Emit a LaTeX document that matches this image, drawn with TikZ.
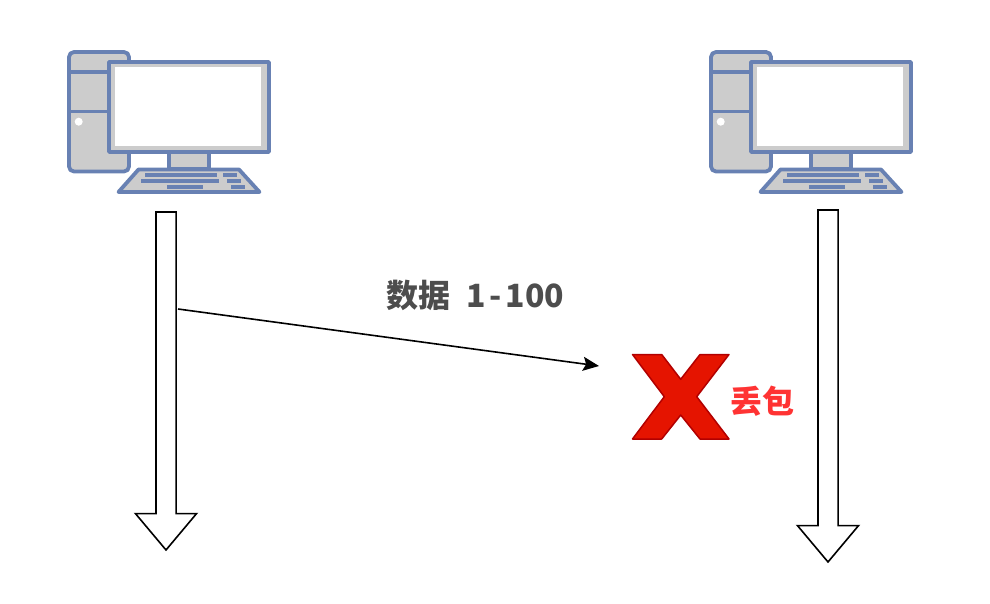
\documentclass[tikz,border=0pt]{standalone}
\usepackage{fontspec}
\setmainfont{Noto Sans CJK SC}
\usepackage{tikz}
\usetikzlibrary{arrows.meta,calc,shapes.arrows}
\definecolor{pcblue}{HTML}{6881B3}
\definecolor{pcgray}{HTML}{CCCCCC}
\definecolor{labelgray}{HTML}{4D4D4D}
\definecolor{lossred}{HTML}{FF3333}
\definecolor{crossfill}{HTML}{E51400}
\definecolor{crossline}{HTML}{B20000}
\tikzstyle{lifeline}=[draw=black,line width=1.6pt,fill=white,shape=single arrow,shape border rotate=270,
    inner sep=0pt,minimum width=60pt,single arrow head extend=20.5pt,single arrow tip angle=80,anchor=center]
\tikzstyle{packet}=[-{Stealth[length=16pt,width=14pt,inset=3pt]},black,line width=1.6pt]
\tikzstyle{pcpart}=[draw=pcblue,line width=3.8pt,fill=pcgray,line join=round]
\tikzstyle{pckey}=[fill=pcblue,draw=none]
\newcommand{\computer}[1]{
\begin{scope}[shift={(#1,0)}]
    \path[pcpart,rounded corners=5pt] (69,52) rectangle (129,171.5);
    \draw[pcblue,line width=3.8pt] (69,72) -- (129,72) (69,111.5) -- (129,111.5);
    \fill[white] (78.7,121.7) circle (4pt);
    \path[pcpart] (169,152) rectangle (209,169);
    \path[pcpart] (109,62) rectangle (269,152);
    \fill[white] (115,67.5) rectangle (261,146);
    \path[pcpart] (138.5,169.5) -- (239,169.5) -- (259.5,192) -- (118.5,192) -- cycle;
    \fill[pckey] (145,172.7) rectangle (217,177);
    \fill[pckey] (223,172.7) rectangle (237,177);
    \fill[pckey] (141,179) rectangle (219,183);
    \fill[pckey] (227,179) rectangle (241,183);
    \fill[pckey] (167,185) rectangle (203,189);
    \fill[pckey] (231,185) rectangle (245,189);
\end{scope}
}

\begin{document}
\begin{tikzpicture}[x=1pt,y=-1pt]
\useasboundingbox (0,0) rectangle (990,604);

\computer{0}
\computer{642}

\node[lifeline,minimum height=338pt,text width=18.5pt] (senderline) at (166,375) {};
\node[lifeline,minimum height=352pt,text width=18.5pt] (receiverline) at (828,380) {};

\coordinate (sendpoint) at (178,309);
\coordinate (droppoint) at (599,366);
\draw[packet] (sendpoint) -- (droppoint);

\node[text=labelgray,font=\fontsize{32pt}{32pt}\selectfont\bfseries,anchor=west,inner sep=0pt] (datalabel) at (386,295) {数据\hspace{16pt}1\hspace{4pt}-\hspace{4pt}100};

\path[fill=crossfill,draw=crossline,line width=1.5pt,line join=round]
    (632.5,354.5) -- (661.7,354.5) -- (680.7,379.3) -- (700,354.5) -- (729,354.5) -- (696.7,396.7)
    -- (729,439) -- (700,439) -- (680.7,415) -- (661.7,439) -- (632.5,439) -- (664.3,396.7) -- cycle;

\node[text=lossred,font=\fontsize{32pt}{32pt}\selectfont\bfseries,anchor=center] (losslabel) at (762,401) {丢包};

\end{tikzpicture}
\end{document}
